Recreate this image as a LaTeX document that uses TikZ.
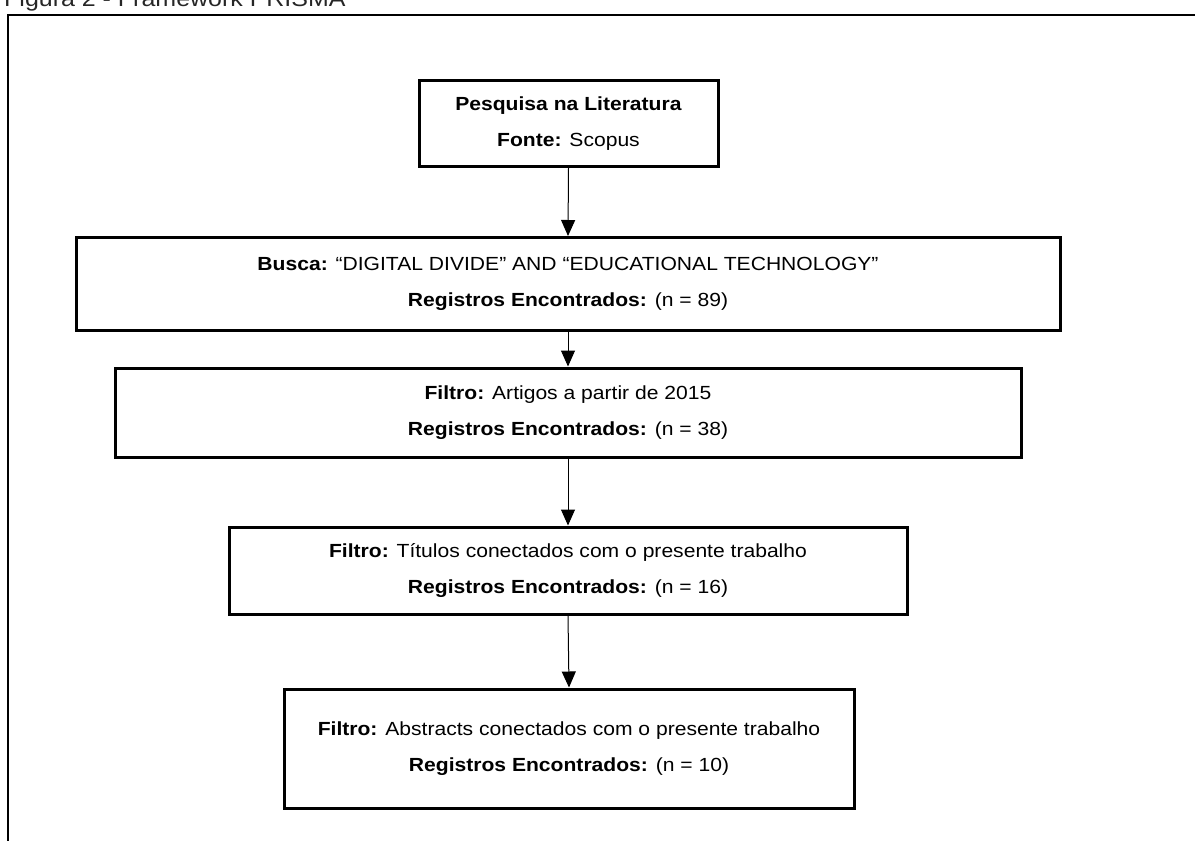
\documentclass[tikz,border=0pt]{standalone}
\usepackage{fontspec}
\setmainfont{Liberation Sans}[FakeStretch=1.11]
\usetikzlibrary{arrows.meta}
\begin{document}
\begin{tikzpicture}[x=1pt,y=-1pt,
  box/.style={draw=black, line width=3pt, align=center, inner sep=0pt,
    font=\fontsize{19}{36}\selectfont},
  arr/.style={line width=1pt, -{Triangle[length=16pt,width=14pt]}},
  frame/.style={line width=2.4pt}]
\useasboundingbox (0,0) rectangle (1195,841);
\node[anchor=base west, font=\fontsize{22.5}{26}\selectfont, text=black!85, inner sep=0pt] (cap) at (4,6) {Figura 2 - Framework PRISMA};
\coordinate (fbl) at (8,850);
\coordinate (ftl) at (8,15);
\coordinate (ftr) at (1210,15);
\draw[frame] (fbl) -- (ftl) -- (ftr);
\node[box, minimum width=299, minimum height=86] (b1) at (568.5,123.5)
  {\textbf{Pesquisa na Literatura}\\\textbf{Fonte:} Scopus};
\node[box, minimum width=984, minimum height=93] (b2) at (568,284)
  {\textbf{Busca:} “DIGITAL DIVIDE” AND “EDUCATIONAL TECHNOLOGY”\\\textbf{Registros Encontrados:} (n = 89)};
\node[box, minimum width=906, minimum height=89] (b3) at (568,412.5)
  {\textbf{Filtro:} Artigos a partir de 2015\\\textbf{Registros Encontrados:} (n = 38)};
\node[box, minimum width=678, minimum height=87] (b4) at (568,570.5)
  {\textbf{Filtro:} Títulos conectados com o presente trabalho\\\textbf{Registros Encontrados:} (n = 16)};
\node[box, minimum width=570, minimum height=119] (b5) at (569,748.5)
  {\textbf{Filtro:} Abstracts conectados com o presente trabalho\\\textbf{Registros Encontrados:} (n = 10)};
\draw[arr] (b1.south) -- (b2.north);
\draw[arr] (b2.south) -- (b3.north);
\draw[arr] (b3.south) -- (b4.north);
\draw[arr] (b4.south) -- (b5.north);
\end{tikzpicture}
\end{document}
